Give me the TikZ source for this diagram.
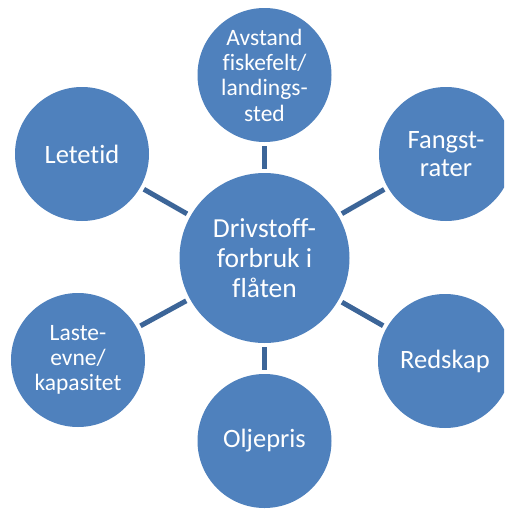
\documentclass[tikz,border=0pt]{standalone}
\usepackage{fontspec}
\setmainfont{Carlito}[Ligatures={NoCommon}]
\definecolor{bubble}{HTML}{4F81BD}
\definecolor{conn}{HTML}{3C6598}
\begin{document}
\begin{tikzpicture}[x=1pt,y=-1pt,
  bub/.style={circle,fill=bubble,draw=none,text=white,align=center,inner sep=0pt,minimum size=134pt},
  hub/.style={circle,fill=bubble,draw=none,text=white,align=center,inner sep=0pt,minimum size=170pt,
    font=\fontsize{27.5}{30}\selectfont},
  big/.style={font=\fontsize{26.5}{28}\selectfont},
  small/.style={font=\fontsize{23.5}{25.3}\selectfont},
  link/.style={draw=conn,line width=5pt,shorten >=4pt,shorten <=4pt}]
\clip (0,0) rectangle (504,509);
\fill[white] (0,0) rectangle (504,509);
\node[hub] (c) at (264.5,258) {Drivstoff-\\forbruk i\\flåten};
\node[bub,small] (top) at (264.5,75) {Avstand\\fiskefelt/\\landings-\\sted};
\node[bub,big] (lt) at (82,154) {Letetid};
\node[bub,big] (rt) at (446,154) {Fangst-\\rater};
\node[bub,small] (lb) at (78,360) {Laste-\\evne/\\kapasitet};
\node[bub,big] (rb) at (445,361) {Redskap};
\node[bub,big] (bot) at (264.5,441) {Oljepris};
\foreach \n in {top,lt,rt,lb,rb,bot} \draw[link] (c) -- (\n);
\end{tikzpicture}
\end{document}
